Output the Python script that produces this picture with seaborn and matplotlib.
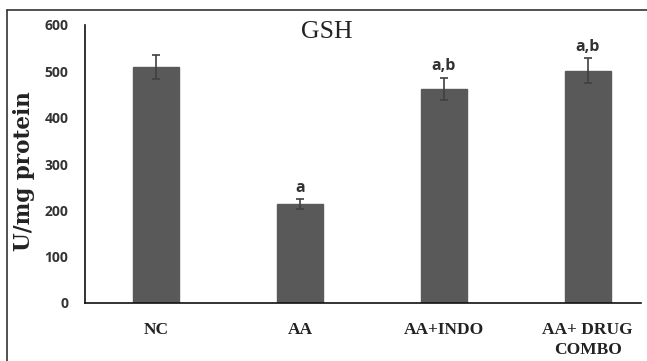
import matplotlib
matplotlib.use("Agg")
import matplotlib.pyplot as plt
import seaborn as sns
import pandas as pd
from matplotlib.lines import Line2D

categories = ["NC", "AA", "AA+INDO", "AA+ DRUG\nCOMBO"]
values = [509, 213, 462, 501]
errors = [26, 11, 24, 27]
sig_labels = ["", "a", "a,b", "a,b"]
y_ticks = [0, 100, 200, 300, 400, 500, 600]

df = pd.DataFrame({"group": categories, "value": values})

sns.set_theme(style="white")
plt.rcParams["font.family"] = ["DejaVu Sans"]

fig = plt.figure(figsize=(6.47, 3.61), dpi=100)
ax = fig.add_axes([85/647, 1-303/361, (641-85)/647, (303-25)/361])

sns.barplot(data=df, x="group", y="value", color="#595959", width=0.32,
            saturation=1, ax=ax, errorbar=None, edgecolor="#595959")
ax.errorbar(range(len(categories)), values, yerr=errors, fmt="none",
            ecolor="#404040", elinewidth=1.2, capsize=3, capthick=1.2)

for i, (v, e, s) in enumerate(zip(values, errors, sig_labels)):
    if s:
        ax.text(i, v + e + 8, s, ha="center", va="bottom", fontsize=11.5,
                fontweight="bold", color="#333333", family="Open Sans")

ax.set_xlim(-0.493, 3.37)
ax.set_ylim(0, 600)
ax.set_yticks(y_ticks)
ax.set_yticklabels([str(t) for t in y_ticks], fontsize=10, fontweight="bold",
                   color="#333333", family="Open Sans")
ax.tick_params(axis="y", length=0, pad=12)
ax.tick_params(axis="x", length=0, pad=14)
for lbl in ax.get_xticklabels():
    lbl.set_fontfamily("Liberation Serif")
    lbl.set_fontweight("bold")
    lbl.set_fontsize(12.5)
    lbl.set_color("#222222")
    lbl.set_linespacing(1.3)
ax.set_xlabel("")
ax.set_ylabel("")
fig.text(24/647, 1-171/361, "U/mg protein", rotation=90, ha="center", va="center",
         fontsize=15.5, fontweight="bold", family="DejaVu Serif", color="#222222")

for side in ["top", "right"]:
    ax.spines[side].set_visible(False)
for side in ["left", "bottom"]:
    ax.spines[side].set_color("#111111")
    ax.spines[side].set_linewidth(1.2)

fig.text(327/647, 1-32/361, "GSH", ha="center", va="center", fontsize=18.5,
         family="Liberation Serif", color="#222222")

# outer frame (top and left edges visible, rest cropped)
fig.add_artist(Line2D([7/647, 1.0], [1-10/361, 1-10/361], transform=fig.transFigure,
                      color="#333333", linewidth=1.2))
fig.add_artist(Line2D([7/647, 7/647], [0, 1-10/361], transform=fig.transFigure,
                      color="#333333", linewidth=1.2))

fig.savefig("out.png", dpi=100)
